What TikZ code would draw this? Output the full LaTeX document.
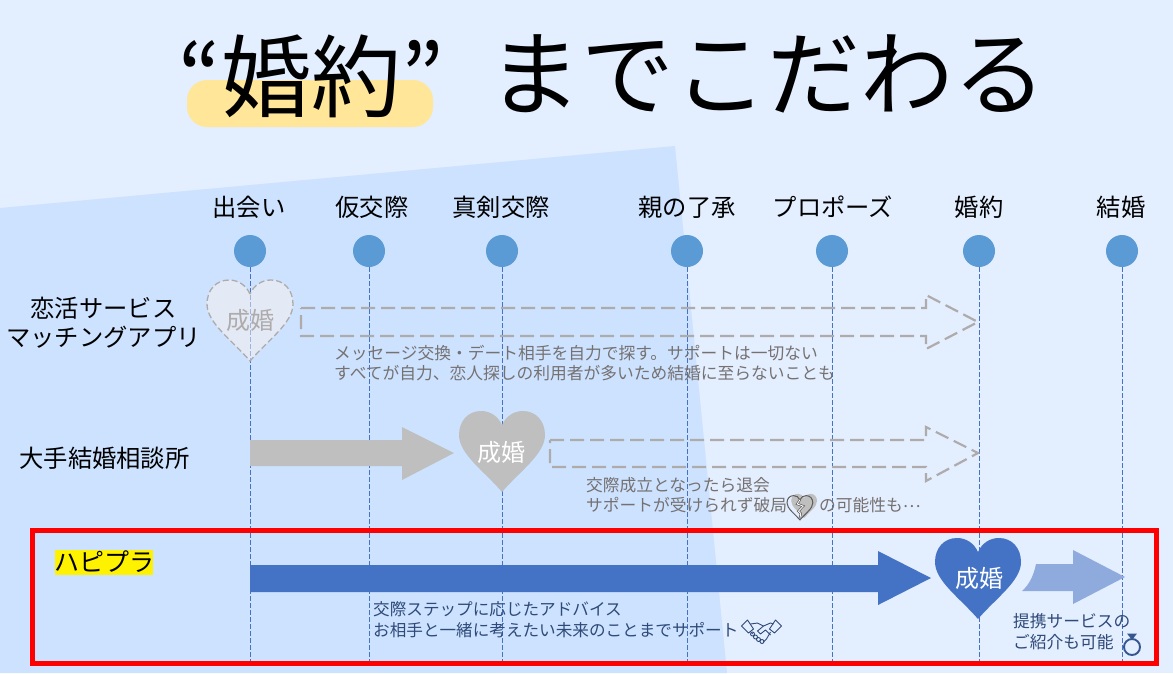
\documentclass[tikz,border=0pt]{standalone}
\usepackage{fontspec}
\setmainfont{Noto Sans CJK JP}
\usetikzlibrary{calc}
\definecolor{pagebg}{HTML}{E3EEFF}
\definecolor{panelbg}{HTML}{CCE2FF}
\definecolor{dot}{HTML}{5B9BD5}
\definecolor{vline}{HTML}{4472C4}
\definecolor{dashgray}{HTML}{AFABAB}
\definecolor{solidgray}{HTML}{BFBFBF}
\definecolor{lightblue}{HTML}{8FAADC}
\definecolor{bannery}{HTML}{FFE699}
\definecolor{notegray}{HTML}{767171}
\definecolor{noteblue}{HTML}{2F4A78}
\definecolor{faint}{HTML}{E3EAF5}
\tikzset{
  x=1pt,y=-1pt,
  stagelabel/.style={font=\fontsize{24.3}{24.3}\selectfont,text=black,inner sep=0pt,anchor=center},
  stagedot/.style={circle,fill=dot,minimum size=32pt,inner sep=0pt},
  stageline/.style={draw=vline,dashed,dash pattern=on 5pt off 2pt,line width=0.9pt},
  rowlabel/.style={font=\fontsize{24.3}{29}\selectfont,text=black,inner sep=0pt,align=center},
  notetext/.style={font=\fontsize{16.75}{20}\selectfont,inner sep=0pt,align=left,anchor=north west},
  dasharrow/.style={draw=dashgray,dashed,dash pattern=on 14pt off 6pt,line width=2.2pt,fill=none},
  heartlabel/.style={font=\fontsize{24}{24}\selectfont,inner sep=0pt},
}
% block arrow: tail x, shaft top, shaft bottom, head x, head top, head bottom, tip x, tip y
\newcommand{\blockarrow}[9]{\path[#1] (#2,#3) -- (#5,#3) -- (#5,#6) -- (#8,#9) -- (#5,#7) -- (#5,#4) -- (#2,#4) -- cycle;}
% heart: centre x, top y, style
\newcommand{\heartshape}[3]{\path[#3,shift={(#1,#2)}] (0,14) .. controls (-4,5) and (-12,0) .. (-21,0) .. controls (-34,0) and (-43,10) .. (-43,24) .. controls (-43,43) and (-18,60) .. (0,81) .. controls (18,60) and (43,43) .. (43,24) .. controls (43,10) and (34,0) .. (21,0) .. controls (12,0) and (4,5) .. (0,14) -- cycle;}
\begin{document}
\begin{tikzpicture}
\useasboundingbox (0,0) rectangle (1173,673);
\fill[pagebg] (0,0) rectangle (1173,673);
\fill[panelbg] (0,208) -- (675,146) -- (727,673) -- (0,673) -- cycle;
% title
\fill[bannery,rounded corners=20pt] (187,80) rectangle (433,127);
\node[font=\fontsize{90}{90}\selectfont,inner sep=0pt] (ttl) at (311,76) {“婚約”};
\node[font=\fontsize{93}{93}\selectfont,inner sep=0pt] (ttr) at (767,74) {までこだわる};
% stages
\foreach \n/\x/\lx/\t in {a/250/249/出会い,b/369/372/仮交際,c/502/501/真剣交際,d/687/687/親の了承,e/832/833/プロポーズ,f/979/979/婚約,g/1122/1121/結婚}{
  \node[stagelabel] (l\n) at (\lx,207) {\t};
  \node[stagedot] (s\n) at (\x,251) {};
  \coordinate (e\n) at (\x,664);
  \draw[stageline] (s\n) -- (e\n);
}
% row 1
\node[rowlabel] (r1) at (103.5,323) {恋活サービス\\マッチングアプリ};
\heartshape{250}{280}{fill=faint,draw=dashgray,dashed,dash pattern=on 6pt off 3pt,line width=1.3pt}
\draw[vline!45!faint,dashed,dash pattern=on 5pt off 2pt,line width=0.9pt] (250,295) -- (250,360);
\node[heartlabel,text=dashgray] (h1) at (250,320) {成婚};
\blockarrow{dasharrow}{301}{308}{336}{926}{295}{349}{978}{322}
\node[notetext,text=notegray] (n1) at (334,345) {メッセージ交換・デート相手を自力で探す。サポートは一切ない\\すべてが自力、恋人探しの利用者が多いため結婚に至らないことも};
% row 2
\node[rowlabel] (r2) at (104.5,458) {大手結婚相談所};
\blockarrow{fill=solidgray}{250}{440}{466}{402}{427}{480}{454}{453}
\heartshape{502}{411}{fill=solidgray}
\node[heartlabel,text=white] (h2) at (501,452) {成婚};
\blockarrow{dasharrow}{550}{440}{467}{926}{427}{481}{978}{453}
\node[notetext,text=notegray] (n2) at (586,477) {交際成立となったら退会\\サポートが受けられず破局};
\node[notetext,text=notegray] (n2b) at (819,497) {の可能性も\raisebox{3.5pt}{⋯}};
% broken heart icon
\begin{scope}[shift={(802,507)},scale=0.30]
\path[fill=solidgray,shift={(7,-44)}] (0,14) .. controls (-4,5) and (-12,0) .. (-21,0) .. controls (-34,0) and (-43,10) .. (-43,24) .. controls (-43,43) and (-18,60) .. (0,81) .. controls (18,60) and (43,43) .. (43,24) .. controls (43,10) and (34,0) .. (21,0) .. controls (12,0) and (4,5) .. (0,14) -- cycle;
\draw[notegray!80!black,line width=1pt,shift={(-7,-38)}] (0,14) .. controls (-4,5) and (-12,0) .. (-21,0) .. controls (-34,0) and (-43,10) .. (-43,24) .. controls (-43,43) and (-18,60) .. (0,81) .. controls (18,60) and (43,43) .. (43,24) .. controls (43,10) and (34,0) .. (21,0) .. controls (12,0) and (4,5) .. (0,14);
\draw[notegray!80!black,line width=2.2pt] (-7,-24) -- (-16,-10) -- (4,-3) -- (-12,14) -- (-4,22) -- (-7,38);
\draw[white,line width=0.8pt] (-7,-24) -- (-16,-10) -- (4,-3) -- (-12,14) -- (-4,22) -- (-7,38);
\end{scope}
% row 3
\fill[yellow] (55,550) rectangle (153,575);
\node[font=\fontsize{25}{25}\selectfont,inner sep=0pt] (r3) at (104,562) {ハピプラ};
\draw[red,line width=5pt] (32.5,530.5) rectangle (1156,663);
\blockarrow{fill=vline}{250}{565}{592}{878}{551}{605}{931}{578}
\heartshape{978}{538}{fill=vline}
\node[heartlabel,text=white] (h3) at (979,578) {成婚};
\path[fill=lightblue] (1036,564) -- (1073,564) -- (1073,550) -- (1125,577) -- (1073,604) -- (1073,591) -- (1022,591) .. controls (1030,584) and (1034,574) .. (1036,564) -- cycle;
\node[notetext,text=noteblue,font=\fontsize{16.6}{21}\selectfont] (n3) at (373,601) {交際ステップに応じたアドバイス\\お相手と一緒に考えたい未来のことまでサポート};
\node[notetext,text=noteblue,font=\fontsize{16.75}{21}\selectfont] (n4) at (1013,613) {提携サービスの\\ご紹介も可能};
% ring
\draw[noteblue!70!vline,line width=1.9pt] (1132,647) circle (8pt);
\fill[noteblue!70!vline] (1127,633.5) -- (1137,633.5) -- (1132,640) -- cycle;
% handshake
\begin{scope}[shift={(761.5,630)},noteblue,line width=0.9pt,line join=round]
\draw (-20,-4) -- (-14,-10) -- (-8,-1) -- (-13,3) -- cycle;
\draw (20,-4) -- (14,-10) -- (8,-1) -- (13,3) -- cycle;
\draw (-11,-6) -- (-4,-7) -- (2,-4) -- (9,-7) -- (12,-6);
\draw (-10,2) -- (-9,4) (9,2) -- (5,9) -- (2,12);
\draw (2,-4) -- (-4,1) -- (-1,4) -- (4,0) -- (9,5);
\draw (-9,4) circle (2pt) (-6,7) circle (2pt) (-3,9.5) circle (2pt) (0.5,11.5) circle (2pt);
\end{scope}
\end{tikzpicture}
\end{document}
